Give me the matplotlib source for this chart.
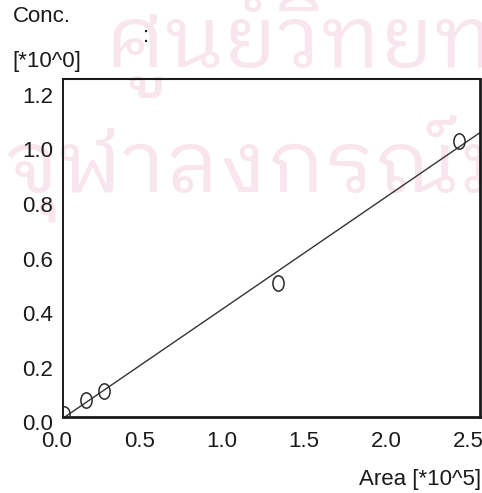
import numpy as np
import matplotlib
matplotlib.use("Agg")
import matplotlib.pyplot as plt
from matplotlib import font_manager
from matplotlib.markers import MarkerStyle
from matplotlib.transforms import Affine2D, ScaledTranslation

# Calibration standards
area = [0.0, 0.133, 0.243, 1.30, 2.40]      # peak area [*10^5]
conc = [0.0, 0.051, 0.084, 0.48, 1.00]      # concentration [*10^0]

x_ticks = [0.0, 0.5, 1.0, 1.5, 2.0, 2.5]
x_tick_labels = ["0.0", "0.5", "1.0", "1.5", "2.0", "2.5"]
y_ticks = [0.0, 0.2, 0.4, 0.6, 0.8, 1.0, 1.2]
y_tick_labels = ["0.0", "0.2", "0.4", "0.6", "0.8", "1.0", "1.2"]

watermark_lines = ["ศูนย์วิทยทรัพยากร", "จุฬาลงกรณ์มหาวิทยาลัย"]


def fonts_with_char(ch):
    """Family names whose font files cover the given character."""
    found = []
    try:
        from fontTools.ttLib import TTFont
    except Exception:
        return found
    for entry in font_manager.fontManager.ttflist:
        try:
            tt = TTFont(entry.fname, lazy=True, fontNumber=0)
            cmap = tt.getBestCmap() or {}
            if ord(ch) in cmap and entry.name not in found:
                found.append(entry.name)
        except Exception:
            continue
    return found


def pick_thai_font():
    cands = fonts_with_char("ก")
    for key in ("Looped", "Serif Thai", "Thai"):
        for c in cands:
            if key in c:
                return c
    return cands[0] if cands else None


names = {f.name for f in font_manager.fontManager.ttflist}
label_font = "Liberation Sans Narrow" if "Liberation Sans Narrow" in names else "Liberation Sans"
label_size = 17 if label_font.endswith("Narrow") else 16
thai_font = pick_thai_font()

W, H = 482, 493
fig = plt.figure(figsize=(W / 100, H / 100), dpi=100)
fig.patch.set_facecolor("white")

# axes frame in pixel terms
left, right, top, bottom = 63, 480, 79, 417
ax = fig.add_axes([left / W, 1 - bottom / H, (right - left) / W, (bottom - top) / H])
ax.patch.set_visible(False)

# faint library stamp behind the plot
stamp_color = "#f8e5ee"
if thai_font:
    fig.text(104 / W, 1 - 67 / H, watermark_lines[0], fontsize=62, color=stamp_color,
             family=thai_font, ha="left", va="baseline", zorder=-5)
    fig.text(4 / W, 1 - 192 / H, watermark_lines[1], fontsize=62, color=stamp_color,
             family=thai_font, ha="left", va="baseline", zorder=-5)

# linear calibration fit
slope, intercept = np.polyfit(area, conc, 1)
xmin, xmax = -0.005, 2.53
ymin, ymax = -0.011, 1.227
fit_x = np.array([0.0, xmax])
ax.plot(fit_x, slope * fit_x + intercept, color="#333333", lw=1.0, zorder=2)

ell = MarkerStyle("o", transform=Affine2D().scale(0.95, 1.3))
ax.plot(area, conc, linestyle="none", marker=ell, markersize=8.5,
        markerfacecolor="none", markeredgecolor="#2a2a2a", markeredgewidth=1.1,
        zorder=3)

ax.set_xlim(xmin, xmax)
ax.set_ylim(ymin, ymax)

ax.set_xticks(x_ticks)
ax.set_xticklabels(x_tick_labels)
ax.set_yticks(y_ticks)
ax.set_yticklabels(y_tick_labels)
ax.tick_params(axis="both", length=0, labelsize=label_size, colors="#1a1a1a")
ax.tick_params(axis="x", pad=10)
ax.tick_params(axis="y", pad=7)
for lab in ax.get_xticklabels() + ax.get_yticklabels():
    lab.set_family(label_font)
for lab in ax.get_yticklabels():
    lab.set_transform(lab.get_transform() + ScaledTranslation(0, -6 / 72, fig.dpi_scale_trans))
for lab in ax.get_xticklabels():
    lab.set_transform(lab.get_transform() + ScaledTranslation(-5 / 72, 0, fig.dpi_scale_trans))

for side, lw in {"left": 1.4, "bottom": 2.0, "top": 1.5, "right": 2.0}.items():
    ax.spines[side].set_linewidth(lw)
    ax.spines[side].set_color("#1a1a1a")

txt = dict(family=label_font, fontsize=label_size, color="#1a1a1a")
fig.text(13 / W, 1 - 17 / H, "Conc.", ha="left", va="center", **txt)
fig.text(12 / W, 1 - 62 / H, "[*10^0]", ha="left", va="center", **txt)
fig.text(143 / W, 1 - 36 / H, ":", ha="left", va="center", **txt)
fig.text(481 / W, 1 - 479 / H, "Area [*10^5]", ha="right", va="center", **txt)

fig.savefig("out.png", dpi=100, facecolor="white")
